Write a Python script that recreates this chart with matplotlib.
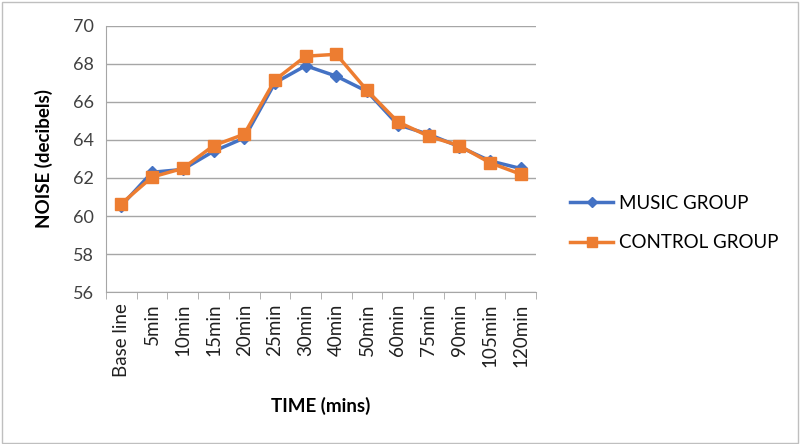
import matplotlib.pyplot as plt
from matplotlib.patches import Rectangle

plt.rcParams['font.family'] = ['Lato', 'DejaVu Sans']

times = ["Base line", "5min", "10min", "15min", "20min", "25min", "30min",
         "40min", "50min", "60min", "75min", "90min", "105min", "120min"]
music = [60.55, 62.3, 62.45, 63.4, 64.1, 67.0, 67.9, 67.35, 66.55, 64.8, 64.3, 63.65, 62.9, 62.5]
control = [60.65, 62.05, 62.5, 63.7, 64.3, 67.15, 68.4, 68.5, 66.6, 64.95, 64.2, 63.7, 62.8, 62.2]
yticks = [56, 58, 60, 62, 64, 66, 68, 70]

fig = plt.figure(figsize=(8, 4.44), dpi=100)
ax = fig.add_axes([0.1325, 0.342, 0.5375, 0.600])

x = list(range(len(times)))
ax.plot(x, music, color="#4472C4", lw=2.5, marker="D", ms=6, label="MUSIC GROUP")
ax.plot(x, control, color="#ED7D31", lw=2.5, marker="s", ms=8, label="CONTROL GROUP")

ax.set_xlim(-0.5, len(times) - 0.5)
ax.set_ylim(56, 70)
ax.set_yticks(yticks)
ax.yaxis.grid(True, color="#A6A6A6", lw=1)
ax.set_axisbelow(True)
ax.tick_params(axis="y", length=0, labelsize=13, colors="#404040", pad=9)

ax.set_xticks(x)
ax.set_xticklabels(times, rotation=90, fontsize=13.5, color="#202020")
ax.set_xticks([i - 0.5 for i in range(len(times) + 1)], minor=True)
ax.tick_params(axis="x", which="major", length=0, pad=8)
ax.tick_params(axis="x", which="minor", length=5, color="#A6A6A6")

for s in ["top", "right"]:
    ax.spines[s].set_visible(False)
ax.spines["left"].set_color("#A6A6A6")
ax.spines["bottom"].set_color("#A6A6A6")

ax.set_xlabel("TIME (mins)", fontsize=13.5, fontweight="bold", labelpad=14)
ax.set_ylabel("NOISE (decibels)", fontsize=13.5, fontweight="bold", labelpad=14)

leg = ax.legend(loc="center left", bbox_to_anchor=(1.04, 0.26), frameon=False,
                fontsize=13.5, handlelength=2.3, labelspacing=1.2, handletextpad=0.3,
                markerscale=0.85)

fig.patches.append(Rectangle((0.002, 0.003), 0.995, 0.993, transform=fig.transFigure,
                             fill=False, edgecolor="#BFBFBF", lw=1))

fig.savefig("out.png", dpi=100)
